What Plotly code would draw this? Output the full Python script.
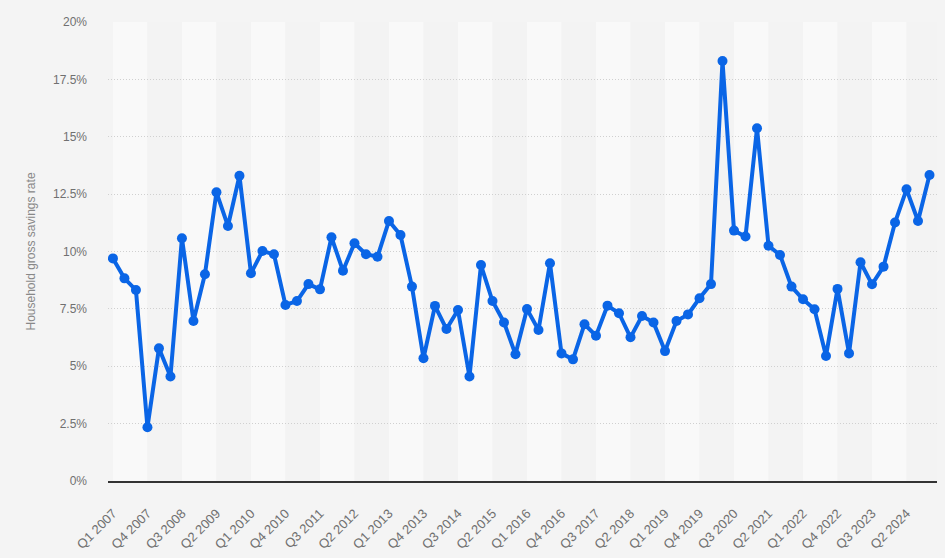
import plotly.graph_objects as go

# Quarter labels, Q1 2007 to Q4 2024
quarters = [f"Q{q} {year}" for year in range(2007, 2025) for q in range(1, 5)]

# Household gross savings rate in percent
savings_rate = [
    9.70, 8.83, 8.32, 2.34, 5.78, 4.55, 10.58, 6.97, 9.01, 12.58, 11.11, 13.30,
    9.05, 10.02, 9.88, 7.67, 7.84, 8.58, 8.35, 10.62, 9.16, 10.36, 9.88, 9.77,
    11.33, 10.72, 8.47, 5.35, 7.63, 6.62, 7.45, 4.55, 9.41, 7.84, 6.91, 5.52,
    7.49, 6.58, 9.49, 5.56, 5.30, 6.83, 6.33, 7.64, 7.31, 6.26, 7.19, 6.91,
    5.66, 6.97, 7.26, 7.96, 8.58, 18.30, 10.91, 10.65, 15.37, 10.25, 9.85, 8.47,
    7.92, 7.48, 5.45, 8.37, 5.56, 9.53, 8.57, 9.34, 11.26, 12.71, 11.33, 13.33,
]

y_ticks = [0, 2.5, 5, 7.5, 10, 12.5, 15, 17.5, 20]
y_tick_labels = ["0%", "2.5%", "5%", "7.5%", "10%", "12.5%", "15%", "17.5%", "20%"]

x_range = [-0.43, 71.65]

fig = go.Figure()

fig.add_trace(go.Scatter(
    x=quarters,
    y=savings_rate,
    mode="lines+markers",
    line=dict(color="#0a65e6", width=4),
    marker=dict(color="#0a65e6", size=10),
    hoverinfo="x+y",
))

# alternating background bands, three quarters wide
shapes = []
for k in range(0, len(quarters), 3):
    shapes.append(dict(
        type="rect", xref="x", yref="paper",
        x0=k, x1=min(k + 3, x_range[1]), y0=0, y1=1,
        fillcolor="#f9f9f9" if (k // 3) % 2 == 0 else "#f3f3f3",
        line=dict(width=0), layer="below",
    ))

fig.update_layout(
    width=945,
    height=558,
    paper_bgcolor="#f4f4f4",
    plot_bgcolor="#f4f4f4",
    margin=dict(l=108, r=8, t=22, b=77),
    showlegend=False,
    shapes=shapes,
    font=dict(family="Liberation Sans, Arial, sans-serif", color="#707070", size=12),
    xaxis=dict(
        type="category",
        range=x_range,
        tickvals=quarters[::3],
        ticktext=quarters[::3],
        tickangle=-45,
        showgrid=False,
        showline=True,
        linecolor="#333333",
        linewidth=1.5,
        ticks="",
        ticklabelstandoff=18,
        automargin=False,
        tickfont=dict(size=13, color="#707070"),
    ),
    yaxis=dict(
        range=[0, 20],
        tickvals=y_ticks,
        ticktext=y_tick_labels,
        showgrid=True,
        gridcolor="#d0d0d0",
        griddash="1px,2px",
        gridwidth=1,
        zeroline=False,
        ticklabelstandoff=20,
        automargin=False,
        tickfont=dict(size=12, color="#707070"),
        title=dict(text="Household gross savings rate",
                   font=dict(size=12, color="#888888"), standoff=14),
    ),
)

# drop the page's default body margin so the figure fills the window
fig.write_html("out.html", config={"displayModeBar": False},
               post_script="document.body.style.margin='0';")
